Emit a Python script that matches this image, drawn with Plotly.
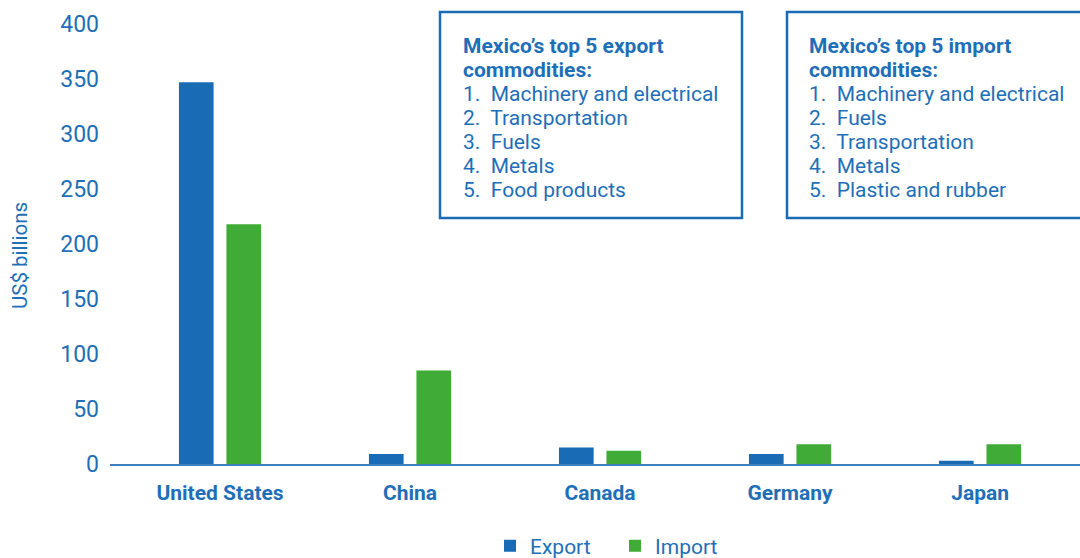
import plotly.graph_objects as go

countries = ["United States", "China", "Canada", "Germany", "Japan"]
export_vals = [347, 9, 15, 9, 3]
import_vals = [218, 85, 12, 18, 18]
y_ticks = [0, 50, 100, 150, 200, 250, 300, 350, 400]

export_list = ["Machinery and electrical", "Transportation", "Fuels", "Metals", "Food products"]
import_list = ["Machinery and electrical", "Fuels", "Transportation", "Metals", "Plastic and rubber"]

BLUE = "#1a6bb5"
GREEN = "#40ab37"
TEXT = "#1e6fb8"
FONT = "Roboto"

W, H = 1080, 558
ML, MR, MT, MB = 110, 0, 24, 94
PW, PH = W - ML - MR, H - MT - MB

def px(x):
    return (x - ML) / PW

def py(y):
    return (H - MB - y) / PH

fig = go.Figure()
fig.add_trace(go.Bar(name="Export", x=countries, y=export_vals, marker=dict(color=BLUE, line=dict(width=0))))
fig.add_trace(go.Bar(name="Import", x=countries, y=import_vals, marker=dict(color=GREEN, line=dict(width=0))))

shapes = []
annotations = []
LINE_H = 24
for (x0, x1), (tx, kind, items) in zip([(440, 742), (787, 1092)],
                                       [(462, "export", export_list), (808, "import", import_list)]):
    shapes.append(dict(type="rect", xref="paper", yref="paper",
                       x0=px(x0), x1=px(x1), y0=py(218), y1=py(12),
                       line=dict(color=BLUE, width=2.5), fillcolor="white", layer="above"))
    lines = [f"<b>Mexico’s top 5 {kind}</b>", "<b>commodities:</b>"]
    lines += [f"{i+1}.  {t}" for i, t in enumerate(items)]
    for k, line in enumerate(lines):
        annotations.append(dict(xref="paper", yref="paper", x=px(tx), y=py(46 + k * LINE_H),
                                xanchor="left", yanchor="middle", align="left", showarrow=False,
                                text=line, borderpad=0,
                                font=dict(family=FONT, size=21, color=TEXT)))

annotations.append(dict(xref="paper", yref="paper", x=px(20), y=py(256), textangle=-90,
                        xanchor="center", yanchor="middle", showarrow=False, text="US$ billions",
                        font=dict(family=FONT, size=20.5, color=TEXT)))

fig.update_layout(
    width=W, height=H,
    margin=dict(l=ML, r=MR, t=MT, b=MB, autoexpand=False),
    paper_bgcolor="white", plot_bgcolor="white",
    barmode="group", bargap=0.5, bargroupgap=0.27,
    font=dict(family=FONT, color=TEXT),
    showlegend=True,
    legend=dict(orientation="h", x=px(490), xanchor="left", y=py(546), yanchor="middle",
                font=dict(family=FONT, size=21, color=TEXT), traceorder="normal",
                itemwidth=30, entrywidth=80),
    shapes=shapes,
    annotations=annotations,
    xaxis=dict(type="category", range=[-0.579, 4.526], showgrid=False, zeroline=False,
               showline=True, linecolor="#3f7fbf", linewidth=2, ticks="",
               tickfont=dict(family=FONT, size=21, color=TEXT, weight="bold"),
               ticklabelstandoff=9, automargin=False),
    yaxis=dict(range=[0, 400], tickvals=y_ticks, showgrid=False, zeroline=False,
               showline=False, ticks="", tickfont=dict(family=FONT, size=23, color=TEXT),
               ticklabelstandoff=10, automargin=False),
)

fig.write_html("out.html", config={"displayModeBar": False},
               post_script="document.body.style.margin='0';document.body.style.overflow='hidden';")
